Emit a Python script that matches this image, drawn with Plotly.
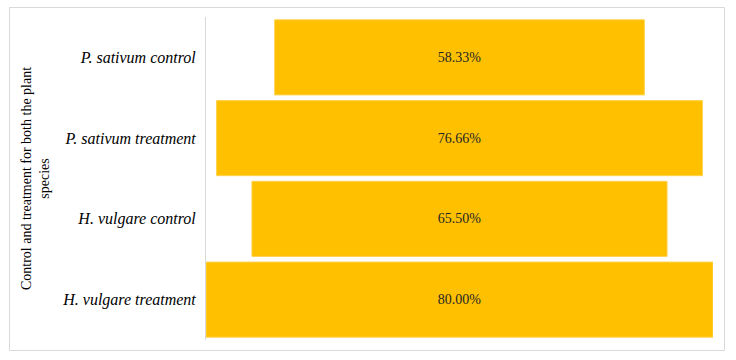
import plotly.graph_objects as go

categories = ["P. sativum control", "P. sativum treatment", "H. vulgare control", "H. vulgare treatment"]
values = [58.33, 76.66, 65.50, 80.00]
labels = ["58.33%", "76.66%", "65.50%", "80.00%"]

W, H = 736, 360
ml, mr, mt, mb = 206, 23, 17, 20
pw, ph = W - ml - mr, H - mt - mb
SERIF = "Times New Roman, Liberation Serif, serif"

def px_x(p):
    return (p - ml) / pw

def px_y(p):
    return 1 - (p - mt) / ph

fig = go.Figure(go.Bar(
    y=categories,
    x=values,
    base=[-v / 2 for v in values],
    orientation="h",
    text=labels,
    textposition="inside",
    insidetextanchor="middle",
    textfont=dict(family=SERIF, size=14, color="#262626"),
    marker=dict(color="#FFC000", line=dict(color="#FFD24D", width=1)),
    width=0.93,
    hoverinfo="skip",
))

fig.update_layout(
    width=W, height=H,
    margin=dict(l=ml, r=mr, t=mt, b=mb, autoexpand=False),
    paper_bgcolor="white", plot_bgcolor="white",
    showlegend=False,
    font=dict(family=SERIF, size=14, color="#000000"),
    xaxis=dict(range=[-40, 40], visible=False, fixedrange=True),
    yaxis=dict(
        autorange="reversed", automargin=False, fixedrange=True,
        showline=True, linecolor="#d9d9d9", linewidth=1,
        showgrid=False, ticks="", ticklabelstandoff=6,
        tickfont=dict(family=SERIF, size=16, style="italic", color="#000000"),
        title=dict(text="Control and treatment for both the plant<br>species",
                   font=dict(family=SERIF, size=14, color="#000000"),
                   standoff=9),
    ),
    shapes=[dict(type="rect", xref="paper", yref="paper",
                 x0=px_x(9.5), x1=px_x(724.5), y0=px_y(7.5), y1=px_y(350.5),
                 line=dict(color="#d9d9d9", width=1), fillcolor="rgba(0,0,0,0)", layer="below")],
)

fig.write_html("out.html", config={"displayModeBar": False},
               post_script="document.body.style.margin='0px';document.body.style.overflow='hidden';")
